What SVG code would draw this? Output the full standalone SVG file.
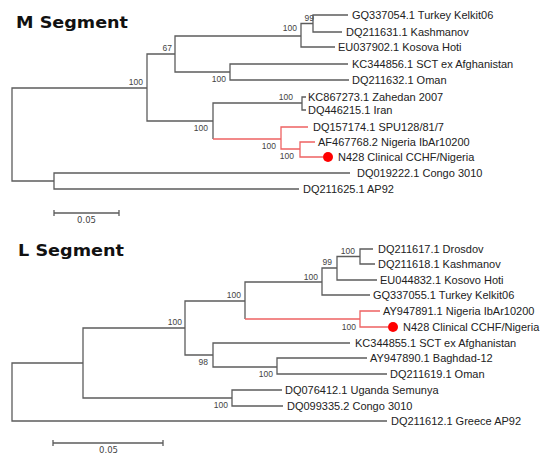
<svg xmlns="http://www.w3.org/2000/svg" width="548" height="461" viewBox="0 0 548 461">
<style>
.title{font-family:"DejaVu Sans",Verdana,sans-serif;font-weight:bold;font-size:15px;fill:#111}
.tip{font-family:"Liberation Sans",Arial,sans-serif;font-size:11px;fill:#222}
.bs{font-family:"Liberation Sans",Arial,sans-serif;font-size:8.5px;fill:#444;text-anchor:end}
.sc{font-family:"DejaVu Sans",Verdana,sans-serif;font-size:8.5px;fill:#444;text-anchor:middle}
.br{fill:none;stroke:#5c5c5c;stroke-width:1.3}
.red{fill:none;stroke:#ee6262;stroke-width:1.3}
.dot{fill:#ff0000}
</style>
<rect width="548" height="461" fill="#fff"/>
<text class="title" x="16" y="28" textLength="112" lengthAdjust="spacingAndGlyphs">M Segment</text>
<text class="title" x="18" y="256" textLength="106" lengthAdjust="spacingAndGlyphs">L Segment</text>
<g id="connectors">
<path class="br" d="M147,88 H12 V181 H54"/>
<path class="br" d="M175,54 H147 V121 H213"/>
<path class="br" d="M301,36 H175 V72 H230"/>
<path class="br" d="M313,23.5 H301 V47 H335"/>
<path class="br" d="M348,15 H313 V32 H342"/>
<path class="br" d="M348,64 H230 V80 H349"/>
<path class="br" d="M302,103 H213 V139"/>
<path class="red" d="M213,139 H281"/>
<path class="br" d="M306,97 H302 V110 H306"/>
<path class="red" d="M308,127 H281 V149 H300"/>
<path class="red" d="M315,142 H300 V157 H323"/>
<path class="br" d="M350,173 H54 V189 H299"/>
<path class="br" d="M54,213 H119 M54,210 V216 M119,210 V216"/>
<path class="br" d="M83,363 H12 V421 H387"/>
<path class="br" d="M185,328 H83 V398 H232"/>
<path class="br" d="M245,301 H185 V355 H213"/>
<path class="br" d="M322,282 H245 V319"/>
<path class="red" d="M245,319 H360"/>
<path class="br" d="M337,268 H322 V295 H370"/>
<path class="br" d="M360,256.5 H337 V280 H377"/>
<path class="br" d="M373,249 H360 V264 H375"/>
<path class="red" d="M380,311 H360 V327 H388"/>
<path class="br" d="M350,343 H213 V367 H277"/>
<path class="br" d="M367,358 H277 V374 H387"/>
<path class="br" d="M282,390 H232 V406 H283"/>
<path class="br" d="M53,443 H163 M53,440 V446 M163,440 V446"/>
</g>
<g id="m-tips">
<g id="m1"><text class="tip" x="352" y="19">GQ337054.1 Turkey Kelkit06</text></g>
<g id="m2"><text class="tip" x="346" y="36">DQ211631.1 Kashmanov</text></g>
<g id="m3"><text class="tip" x="338" y="51">EU037902.1 Kosova Hoti</text></g>
<g id="m4"><text class="tip" x="352" y="68">KC344856.1 SCT ex Afghanistan</text></g>
<g id="m5"><text class="tip" x="352" y="84">DQ211632.1 Oman</text></g>
<g id="m6"><text class="tip" x="308" y="101">KC867273.1 Zahedan 2007</text></g>
<g id="m7"><text class="tip" x="308" y="114">DQ446215.1 Iran</text></g>
<g id="m8"><text class="tip" x="313" y="131">DQ157174.1 SPU128/81/7</text></g>
<g id="m9"><text class="tip" x="318" y="146">AF467768.2 Nigeria IbAr10200</text></g>
<g id="m10"><circle class="dot" cx="328" cy="157" r="5"/><text class="tip" x="338" y="161">N428 Clinical CCHF/Nigeria</text></g>
<g id="m11"><text class="tip" x="357" y="177">DQ019222.1 Congo 3010</text></g>
<g id="m12"><text class="tip" x="303" y="193">DQ211625.1 AP92</text></g>
</g>
<g id="m-support">
<text class="bs" x="314" y="21">99</text>
<text class="bs" x="297" y="31">100</text>
<text class="bs" x="172" y="51">67</text>
<text class="bs" x="143" y="85">100</text>
<text class="bs" x="226" y="82">100</text>
<text class="bs" x="293" y="100">100</text>
<text class="bs" x="208" y="131">100</text>
<text class="bs" x="276" y="149">100</text>
<text class="bs" x="294" y="159">100</text>
</g>
<g id="m-scale"><text class="sc" x="86.5" y="223">0.05</text></g>
<g id="l-tips">
<g id="l1"><text class="tip" x="378" y="253">DQ211617.1 Drosdov</text></g>
<g id="l2"><text class="tip" x="378" y="268">DQ211618.1 Kashmanov</text></g>
<g id="l3"><text class="tip" x="380" y="284">EU044832.1 Kosovo Hoti</text></g>
<g id="l4"><text class="tip" x="373" y="299">GQ337055.1 Turkey Kelkit06</text></g>
<g id="l5"><text class="tip" x="383" y="315">AY947891.1 Nigeria IbAr10200</text></g>
<g id="l6"><circle class="dot" cx="393" cy="327" r="5"/><text class="tip" x="403" y="331">N428 Clinical CCHF/Nigeria</text></g>
<g id="l7"><text class="tip" x="355" y="347">KC344855.1 SCT ex Afghanistan</text></g>
<g id="l8"><text class="tip" x="370" y="362">AY947890.1 Baghdad-12</text></g>
<g id="l9"><text class="tip" x="390" y="378">DQ211619.1 Oman</text></g>
<g id="l10"><text class="tip" x="285" y="394">DQ076412.1 Uganda Semunya</text></g>
<g id="l11"><text class="tip" x="287" y="410">DQ099335.2 Congo 3010</text></g>
<g id="l12"><text class="tip" x="391" y="425">DQ211612.1 Greece AP92</text></g>
</g>
<g id="l-support">
<text class="bs" x="355" y="254">100</text>
<text class="bs" x="332" y="265">99</text>
<text class="bs" x="318" y="280">100</text>
<text class="bs" x="241" y="298">100</text>
<text class="bs" x="182" y="325">100</text>
<text class="bs" x="356" y="330">100</text>
<text class="bs" x="208" y="365">98</text>
<text class="bs" x="273" y="377">100</text>
<text class="bs" x="228" y="408">100</text>
</g>
<g id="l-scale"><text class="sc" x="108.5" y="453">0.05</text></g>
</svg>
